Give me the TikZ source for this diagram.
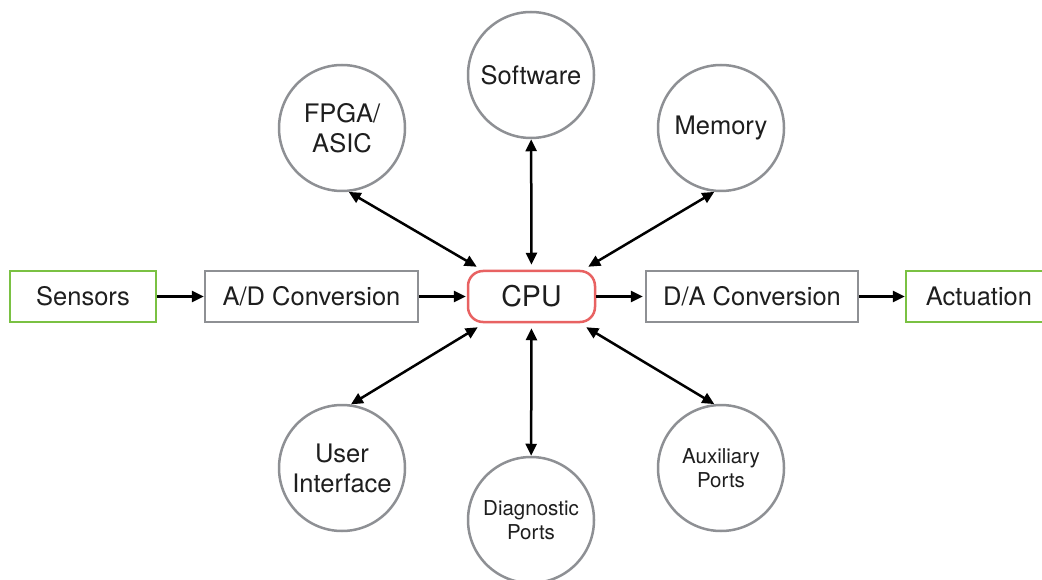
\documentclass[tikz,border=0pt]{standalone}
\usepackage{fontspec}
\setmainfont{TeX Gyre Heros}
\usetikzlibrary{arrows.meta}
\definecolor{boxgreen}{RGB}{122,193,67}
\definecolor{boxgray}{RGB}{142,144,148}
\definecolor{cpured}{RGB}{232,98,98}
\definecolor{txt}{RGB}{30,30,30}
\tikzset{
  base/.style={inner sep=0pt, line width=2.5pt, text=txt, font=\fontsize{25.5}{30}\selectfont, align=center},
  greenbox/.style={base, draw=boxgreen, rectangle, minimum width=146pt, minimum height=51pt},
  graybox/.style={base, draw=boxgray, rectangle, minimum width=213pt, minimum height=51pt},
  cpubox/.style={base, draw=cpured, rectangle, rounded corners=15pt, minimum width=127pt, minimum height=51pt, font=\fontsize{28.5}{32}\selectfont},
  unit/.style={base, draw=boxgray, circle, minimum size=126pt},
  smallunit/.style={unit, font=\fontsize{20.5}{24}\selectfont},
  flow/.style={line width=2.5pt, -{Triangle[length=12pt,width=11pt]}},
  link/.style={line width=2.5pt, {Triangle[length=12pt,width=11pt]}-{Triangle[length=12pt,width=11pt]}}
}
\begin{document}
\begin{tikzpicture}[x=1pt,y=-1pt]
\useasboundingbox (0,0) rectangle (1042,580);
\clip (0,0) rectangle (1042,580);
\fill[white] (0,0) rectangle (1042,580);
% row
\node[greenbox] (sens) at (83,296.5) {Sensors};
\node[graybox] (ad) at (311.5,296.5) {A/D Conversion};
\node[cpubox] (cpu) at (531.5,296.5) {CPU};
\node[graybox, minimum width=212pt] (da) at (752,296.5) {D/A Conversion};
\node[greenbox] (act) at (979,296.5) {Actuation};
% circles
\node[unit] (soft) at (531,75) {Software};
\node[unit] (fpga) at (342,128) {FPGA/\\ASIC};
\node[unit] (mem) at (721,128) {Memory};
\node[unit] (ui) at (342,468) {User\\Interface};
\node[smallunit] (diag) at (531,520) {Diagnostic\\Ports};
\node[smallunit] (aux) at (721,468) {Auxiliary\\Ports};
% flow arrows
\draw[flow] (sens) -- (ad);
\draw[flow, shorten >=1pt] (ad) -- (cpu);
\draw[flow, shorten >=2pt] (cpu) -- (da);
\draw[flow] (da) -- (act);
% links
\draw[link, shorten >=5pt] (soft) -- (cpu);
\draw[link, shorten >=5pt] (diag) -- (cpu);
\draw[link] (fpga.-84) -- ([xshift=10pt,yshift=3pt]cpu.north west);
\draw[link] (mem.-96) -- ([xshift=-8pt,yshift=3pt]cpu.north east);
\draw[link] (ui.82) -- ([xshift=11pt,yshift=-4pt]cpu.south west);
\draw[link] (aux.96) -- ([xshift=-10pt,yshift=-4pt]cpu.south east);
\end{tikzpicture}
\end{document}
